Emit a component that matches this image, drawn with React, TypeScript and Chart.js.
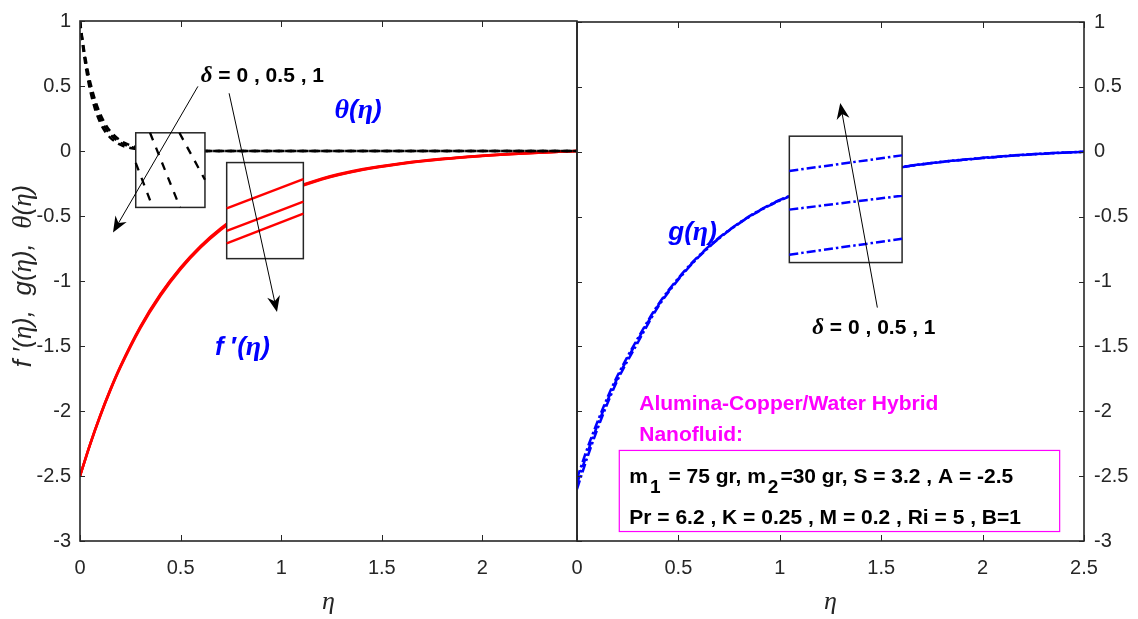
import React, { useEffect, useRef } from 'react';
import { Chart, registerables } from 'chart.js';

Chart.register(...registerables);

const SANS = "'Liberation Sans', Arial, Helvetica, sans-serif";
const SERIF = "'Liberation Serif', 'Times New Roman', serif";
const AXIS_COLOR = '#262626';
const BLUE = '#0000FF';
const RED = '#FF0000';
const MAGENTA = '#FF00FF';

// ---------------- data ----------------
const yTickValues = [1, 0.5, 0, -0.5, -1, -1.5, -2, -2.5, -3];
const leftTickValues = [0, 0.5, 1, 1.5, 2];
const rightTickValues = [0, 0.5, 1, 1.5, 2, 2.5];
const leftEtaMax = 2.47;
const rightEtaMax = 2.5;

// theta(eta), delta = 0, 0.5, 1
const etaTheta = [0, 0.01, 0.02, 0.035, 0.05, 0.075, 0.1, 0.125, 0.15, 0.2, 0.25, 0.3, 0.4, 0.5, 0.7, 1.0, 1.5, 2.0, 2.47];
const theta1 = [1, 0.859, 0.739, 0.588, 0.469, 0.321, 0.22, 0.15, 0.103, 0.048, 0.023, 0.011, 0.002, 0.001, 0, 0, 0, 0, 0];
const theta2 = [1, 0.872, 0.76, 0.619, 0.504, 0.358, 0.254, 0.18, 0.128, 0.065, 0.033, 0.016, 0.004, 0.001, 0, 0, 0, 0, 0];
const theta3 = [1, 0.882, 0.779, 0.646, 0.535, 0.392, 0.287, 0.21, 0.153, 0.082, 0.044, 0.024, 0.007, 0.002, 0, 0, 0, 0, 0];

// f'(eta)
const etaF = [0, 0.05, 0.1, 0.15, 0.2, 0.3, 0.4, 0.5, 0.6, 0.7, 0.8, 0.9, 1.0, 1.2, 1.4, 1.6, 1.8, 2.0, 2.2, 2.47];
const fPrime1 = [-2.5, -2.256, -2.036, -1.837, -1.658, -1.35, -1.1, -0.896, -0.729, -0.594, -0.484, -0.394, -0.321, -0.213, -0.141, -0.094, -0.06, -0.036, -0.018, 0];
const fPrime2 = [-2.5, -2.258, -2.038, -1.841, -1.662, -1.355, -1.105, -0.901, -0.735, -0.599, -0.488, -0.398, -0.325, -0.216, -0.144, -0.096, -0.062, -0.037, -0.019, 0];
const fPrime3 = [-2.5, -2.259, -2.042, -1.845, -1.668, -1.362, -1.113, -0.909, -0.742, -0.606, -0.495, -0.404, -0.33, -0.22, -0.147, -0.098, -0.064, -0.038, -0.02, 0];

// g(eta)
const etaG = [0, 0.05, 0.1, 0.15, 0.2, 0.3, 0.4, 0.5, 0.6, 0.7, 0.8, 0.9, 1.0, 1.2, 1.4, 1.6, 1.8, 2.0, 2.2, 2.35, 2.5];
const g1 = [-2.52, -2.29, -2.085, -1.895, -1.725, -1.437, -1.178, -0.973, -0.803, -0.663, -0.548, -0.451, -0.372, -0.254, -0.172, -0.117, -0.077, -0.047, -0.023, -0.01, 0];
const g2 = [-2.56, -2.325, -2.112, -1.918, -1.743, -1.45, -1.186, -0.979, -0.807, -0.666, -0.55, -0.453, -0.374, -0.255, -0.173, -0.118, -0.078, -0.048, -0.024, -0.01, 0];
const g3 = [-2.6, -2.36, -2.14, -1.94, -1.76, -1.47, -1.195, -0.985, -0.811, -0.669, -0.552, -0.455, -0.376, -0.256, -0.174, -0.119, -0.079, -0.049, -0.025, -0.011, 0];

// magnified views shown inside the inset boxes
const thetaZoomX = [[0.277, 0.362], [0.348, 0.497], [0.494, 0.621]];
const thetaZoomY = [[-0.092, -0.434], [0.14, -0.434], [0.14, -0.221]];
const fPrimeZoomX = [[0.729, 1.11], [0.729, 1.11], [0.729, 1.11]];
const fPrimeZoomY = [[-0.441, -0.216], [-0.614, -0.39], [-0.711, -0.482]];
const gZoomX = [[1.047, 1.603], [1.047, 1.603], [1.047, 1.603]];
const gZoomY = [[-0.148, -0.028], [-0.446, -0.339], [-0.793, -0.671]];

// ---------------- annotation placement (data units) ----------------
const thetaBox = { x0: 0.277, x1: 0.621, y0: 0.14, y1: -0.434 };
const fPrimeBox = { x0: 0.729, x1: 1.11, y0: -0.089, y1: -0.828 };
const gBox = { x0: 1.047, x1: 1.603, y0: 0.12, y1: -0.854 };
const paramBox = { x0: 0.2085, x1: 2.38, y0: -2.302, y1: -2.927 };

type Run = [string, string];

function pts(xs: number[], ys: number[]) {
  return xs.map((x, i) => ({ x, y: ys[i] }));
}

function runsWidth(ctx: CanvasRenderingContext2D, runs: Run[]) {
  let w = 0;
  for (const [t, f] of runs) {
    ctx.font = f;
    w += ctx.measureText(t).width;
  }
  return w;
}

function drawRuns(ctx: CanvasRenderingContext2D, runs: Run[], x: number, baseline: number, color: string) {
  ctx.fillStyle = color;
  ctx.textBaseline = 'alphabetic';
  ctx.textAlign = 'left';
  let cx = x;
  for (const [t, f] of runs) {
    ctx.font = f;
    ctx.fillText(t, cx, baseline);
    cx += ctx.measureText(t).width;
  }
}

function drawArrow(ctx: CanvasRenderingContext2D, x1: number, y1: number, x2: number, y2: number) {
  const a = Math.atan2(y2 - y1, x2 - x1);
  const c = Math.cos(a), s = Math.sin(a);
  const L = 16, W = 6.5, N = 11;
  ctx.save();
  ctx.strokeStyle = '#000';
  ctx.fillStyle = '#000';
  ctx.lineWidth = 1;
  ctx.beginPath();
  ctx.moveTo(x1, y1);
  ctx.lineTo(x2 - c * N, y2 - s * N);
  ctx.stroke();
  ctx.beginPath();
  ctx.moveTo(x2, y2);
  ctx.lineTo(x2 - L * c + W * s, y2 - L * s - W * c);
  ctx.lineTo(x2 - N * c, y2 - N * s);
  ctx.lineTo(x2 - L * c - W * s, y2 - L * s + W * c);
  ctx.closePath();
  ctx.fill();
  ctx.restore();
}

function deltaRuns(): Run[] {
  return [
    ['δ', `italic bold 23px ${SERIF}`],
    [' = 0 , 0.5 , 1', `bold 21px ${SANS}`],
  ];
}

function labelRuns(first: string, firstFont: string): Run[] {
  return [
    [first, firstFont],
    ['(', `italic bold 26px ${SANS}`],
    ['η', `italic bold 28px ${SERIF}`],
    [')', `italic bold 26px ${SANS}`],
  ];
}

interface OverlayCfg {
  id: string;
  xTicks: number[];
  leftTicks: boolean;
  rightTicks: boolean;
  boxes: { x0: number; x1: number; y0: number; y1: number }[];
  extra: (ctx: CanvasRenderingContext2D, px: (v: number) => number, py: (v: number) => number, chart: any) => void;
}

function makeOverlay(cfg: OverlayCfg) {
  let boxesDone = false;
  return {
    id: cfg.id,
    beforeDatasetsDraw() {
      boxesDone = false;
    },
    beforeDatasetDraw(chart: any, args: any) {
      const ds = chart.data.datasets[args.index];
      if (ds && ds.isZoom && !boxesDone) {
        boxesDone = true;
        const ctx: CanvasRenderingContext2D = chart.ctx;
        const xs = chart.scales.x, ys = chart.scales.y;
        ctx.save();
        for (const b of cfg.boxes) {
          const l = xs.getPixelForValue(b.x0), r = xs.getPixelForValue(b.x1);
          const t = ys.getPixelForValue(b.y0), bt = ys.getPixelForValue(b.y1);
          ctx.fillStyle = '#fff';
          ctx.fillRect(l, t, r - l, bt - t);
          ctx.strokeStyle = AXIS_COLOR;
          ctx.lineWidth = 1.5;
          ctx.strokeRect(l, t, r - l, bt - t);
        }
        ctx.restore();
      }
    },
    afterDraw(chart: any) {
      const ctx: CanvasRenderingContext2D = chart.ctx;
      const a = chart.chartArea;
      const xs = chart.scales.x, ys = chart.scales.y;
      const px = (v: number) => xs.getPixelForValue(v);
      const py = (v: number) => ys.getPixelForValue(v);
      ctx.save();
      // frame
      ctx.strokeStyle = AXIS_COLOR;
      ctx.lineWidth = 1.6;
      ctx.strokeRect(a.left, a.top, a.right - a.left, a.bottom - a.top);
      // inward ticks
      ctx.lineWidth = 1;
      ctx.beginPath();
      for (const v of cfg.xTicks) {
        const x = Math.round(px(v)) + 0.5;
        ctx.moveTo(x, a.bottom);
        ctx.lineTo(x, a.bottom - 6);
        ctx.moveTo(x, a.top);
        ctx.lineTo(x, a.top + 6);
      }
      for (const v of yTickValues) {
        const y = Math.round(py(v)) + 0.5;
        if (cfg.leftTicks) {
          ctx.moveTo(a.left, y);
          ctx.lineTo(a.left + 5, y);
        }
        if (cfg.rightTicks) {
          ctx.moveTo(a.right, y);
          ctx.lineTo(a.right - 5, y);
        }
      }
      ctx.stroke();
      // x-axis title
      const etaRuns: Run[] = [['η', `italic 26px ${SERIF}`]];
      const w = runsWidth(ctx, etaRuns);
      drawRuns(ctx, etaRuns, (a.left + a.right) / 2 - w / 2, 609, AXIS_COLOR);
      cfg.extra(ctx, px, py, chart);
      ctx.restore();
    },
  };
}

function lineDs(xs: number[], ys: number[], color: string, width: number, dash: number[], order: number, isZoom = false) {
  return {
    data: pts(xs, ys),
    borderColor: color,
    backgroundColor: color,
    borderWidth: width,
    borderDash: dash,
    pointRadius: 0,
    fill: false,
    cubicInterpolationMode: 'monotone',
    order,
    isZoom,
  };
}

function xScale(max: number, ticks: number[]) {
  return {
    type: 'linear',
    position: 'bottom',
    min: 0,
    max,
    afterBuildTicks: (s: any) => {
      s.ticks = ticks.map((v) => ({ value: v }));
    },
    afterFit: (s: any) => {
      s.height = 78;
    },
    grid: { display: false, drawTicks: false },
    border: { display: false },
    ticks: {
      color: AXIS_COLOR,
      font: { family: SANS, size: 20 },
      padding: 15,
      autoSkip: false,
      maxRotation: 0,
      callback: (v: any) => String(v),
    },
  };
}

function yScale(position: string, width: number, padding: number) {
  return {
    type: 'linear',
    position,
    min: -3,
    max: 1,
    afterBuildTicks: (s: any) => {
      s.ticks = yTickValues.map((v) => ({ value: v }));
    },
    afterFit: (s: any) => {
      s.width = width;
    },
    grid: { display: false, drawTicks: false },
    border: { display: false },
    ticks: {
      color: AXIS_COLOR,
      font: { family: SANS, size: 20 },
      padding,
      autoSkip: false,
      callback: (v: any) => String(v),
    },
  };
}

function leftConfig(): any {
  const datasets = [
    lineDs(etaTheta, theta1, '#000', 2.5, [7, 5], 2),
    lineDs(etaTheta, theta2, '#000', 2.5, [7, 5], 2),
    lineDs(etaTheta, theta3, '#000', 2.5, [7, 5], 2),
    lineDs(etaF, fPrime1, RED, 2.5, [], 2),
    lineDs(etaF, fPrime2, RED, 2.5, [], 2),
    lineDs(etaF, fPrime3, RED, 2.5, [], 2),
    ...thetaZoomX.map((xs, i) => lineDs(xs, thetaZoomY[i], '#000', 2.3, [8, 8], 1, true)),
    ...fPrimeZoomX.map((xs, i) => lineDs(xs, fPrimeZoomY[i], RED, 2.3, [], 1, true)),
  ];
  const overlay = makeOverlay({
    id: 'overlayLeft',
    xTicks: leftTickValues,
    leftTicks: true,
    rightTicks: false,
    boxes: [thetaBox, fPrimeBox],
    extra: (ctx, px, py) => {
      drawArrow(ctx, px(0.586), py(0.497), px(0.164), py(-0.627));
      drawArrow(ctx, px(0.741), py(0.444), px(0.979), py(-1.239));
      drawRuns(ctx, deltaRuns(), px(0.6), py(0.591) + 7.5, '#000');
      drawRuns(ctx, labelRuns('θ', `italic bold 28px ${SERIF}`), px(1.265), py(0.321) + 9, BLUE);
      drawRuns(
        ctx,
        [
          ['f', `italic bold 26px ${SANS}`],
          [' ′', `bold 26px ${SANS}`],
          ['(', `italic bold 26px ${SANS}`],
          ['η', `italic bold 28px ${SERIF}`],
          [')', `italic bold 26px ${SANS}`],
        ],
        px(0.671),
        py(-1.499) + 9,
        BLUE
      );
      // y-axis title
      const yRuns: Run[] = [
        ['f', `italic 26px ${SANS}`],
        [' ′(', `italic 26px ${SANS}`],
        ['η', `italic 27px ${SERIF}`],
        ['),  g(', `italic 26px ${SANS}`],
        ['η', `italic 27px ${SERIF}`],
        ['),  ', `italic 26px ${SANS}`],
        ['θ', `italic 27px ${SERIF}`],
        ['(', `italic 26px ${SANS}`],
        ['η', `italic 27px ${SERIF}`],
        [')', `italic 26px ${SANS}`],
      ];
      const w = runsWidth(ctx, yRuns);
      ctx.save();
      ctx.translate(31, 276);
      ctx.rotate(-Math.PI / 2);
      drawRuns(ctx, yRuns, -w / 2, 0, AXIS_COLOR);
      ctx.restore();
    },
  });
  return {
    type: 'line',
    data: { datasets },
    options: {
      animation: false,
      responsive: false,
      maintainAspectRatio: false,
      events: [],
      layout: { padding: { left: 0, right: 3, top: 18, bottom: 0 } },
      plugins: { legend: { display: false }, tooltip: { enabled: false } },
      scales: { x: xScale(leftEtaMax, leftTickValues), y: yScale('left', 80, 9) },
    },
    plugins: [overlay],
  };
}

function rightConfig(): any {
  const dd = [9, 3, 2.5, 3];
  const datasets = [
    lineDs(etaG, g1, BLUE, 2.5, dd, 2),
    lineDs(etaG, g2, BLUE, 2.5, dd, 2),
    lineDs(etaG, g3, BLUE, 2.5, dd, 2),
    ...gZoomX.map((xs, i) => lineDs(xs, gZoomY[i], BLUE, 2.5, dd, 1, true)),
  ];
  const overlay = makeOverlay({
    id: 'overlayRight',
    xTicks: rightTickValues,
    leftTicks: true,
    rightTicks: true,
    boxes: [gBox],
    extra: (ctx, px, py) => {
      drawArrow(ctx, px(1.481), py(-1.201), px(1.298), py(0.375));
      drawRuns(ctx, deltaRuns(), px(1.16), py(-1.346) + 7.5, '#000');
      drawRuns(ctx, labelRuns('g', `italic bold 26px ${SANS}`), px(0.45), py(-0.62) + 8, BLUE);
      // magenta title
      const mf = `bold 21px ${SANS}`;
      drawRuns(ctx, [['Alumina-Copper/Water Hybrid', mf]], px(0.307), py(-1.933) + 7.5, MAGENTA);
      drawRuns(ctx, [['Nanofluid:', mf]], px(0.307), py(-2.172) + 7.5, MAGENTA);
      // parameter box
      const l = px(paramBox.x0), r = px(paramBox.x1), t = py(paramBox.y0), b = py(paramBox.y1);
      ctx.fillStyle = '#fff';
      ctx.fillRect(l, t, r - l, b - t);
      ctx.strokeStyle = MAGENTA;
      ctx.lineWidth = 1.2;
      ctx.strokeRect(l, t, r - l, b - t);
      const bf = `bold 21px ${SANS}`;
      const sf = `bold 19px ${SANS}`;
      const x0 = px(0.2579);
      const base1 = py(-2.493) + 7.5;
      const parts: [string, number][] = [
        ['m', 0],
        ['1', 10],
        [' = 75 gr, m', 0],
        ['2', 10],
        ['=30 gr, S = 3.2 , A = -2.5', 0],
      ];
      ctx.fillStyle = '#000';
      ctx.textBaseline = 'alphabetic';
      ctx.textAlign = 'left';
      let cx = x0;
      for (const [t2, off] of parts) {
        ctx.font = off ? sf : bf;
        ctx.fillText(t2, cx + (off ? 2 : 0), base1 + off);
        cx += ctx.measureText(t2).width + (off ? 4 : 0);
      }
      ctx.font = bf;
      ctx.fillText('Pr = 6.2 , K = 0.25 , M = 0.2 , Ri = 5 , B=1', x0, py(-2.812) + 7.5);
    },
  });
  return {
    type: 'line',
    data: { datasets },
    options: {
      animation: false,
      responsive: false,
      maintainAspectRatio: false,
      events: [],
      layout: { padding: { left: 30, right: 0, top: 18, bottom: 0 } },
      plugins: { legend: { display: false }, tooltip: { enabled: false } },
      scales: { x: xScale(rightEtaMax, rightTickValues), y: yScale('right', 54, 10) },
    },
    plugins: [overlay],
  };
}

export default function App() {
  const leftRef = useRef<HTMLCanvasElement>(null);
  const rightRef = useRef<HTMLCanvasElement>(null);
  useEffect(() => {
    const left = new Chart(leftRef.current as HTMLCanvasElement, leftConfig());
    const right = new Chart(rightRef.current as HTMLCanvasElement, rightConfig());
    return () => {
      left.destroy();
      right.destroy();
    };
  }, []);
  return (
    <div style={{ position: 'absolute', left: 0, top: 0, width: 1138, height: 619, background: '#fff', overflow: 'hidden' }}>
      <canvas ref={leftRef} width={580} height={619} style={{ position: 'absolute', left: 0, top: 0, width: 580, height: 619 }} />
      <canvas ref={rightRef} width={591} height={619} style={{ position: 'absolute', left: 547, top: 0, width: 591, height: 619 }} />
    </div>
  );
}
